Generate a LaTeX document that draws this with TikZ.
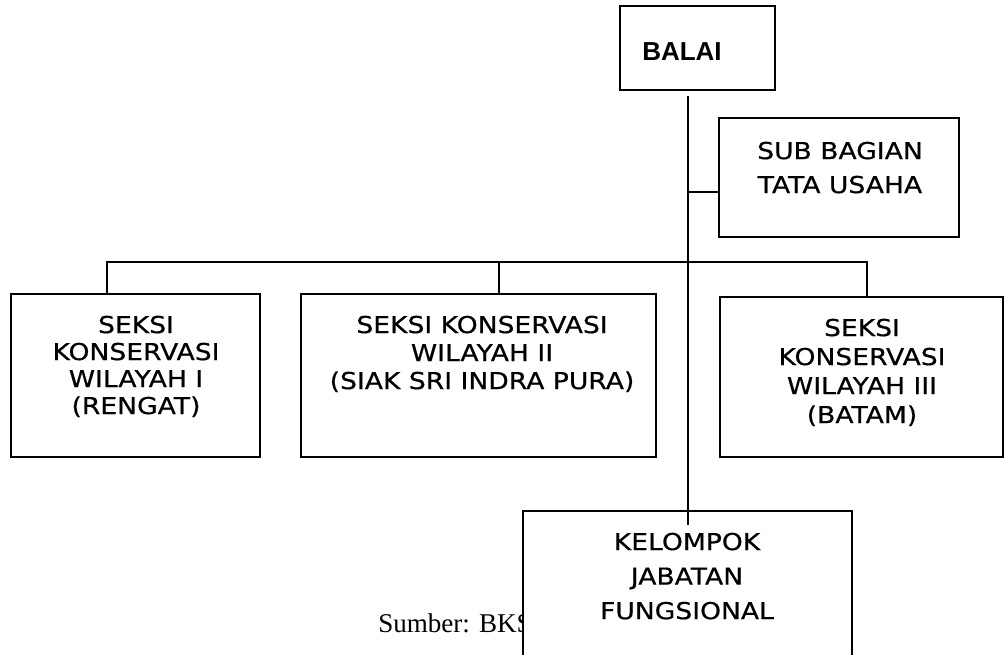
\documentclass[tikz,border=0pt]{standalone}
\usepackage{fontspec}
\setmainfont{Liberation Serif}
\newfontfamily\comicfont[FakeStretch=1.14, FakeBold=0.6]{DejaVu Sans}
\newfontfamily\headfont{Liberation Sans}
\usetikzlibrary{fit}

\tikzset{
  box/.style={draw, line width=1.4pt, inner sep=0pt, fill=white},
  wire/.style={line width=1.4pt},
  unit/.style={inner sep=0pt, align=center, anchor=north,
    font=\comicfont\fontsize{17.5}{#1}\selectfont},
  unit/.default=20.25pt
}

\begin{document}
\begin{tikzpicture}[x=0.75pt, y=-0.75pt]
\path[use as bounding box, clip] (0,0) rectangle (1004,655);

% source line, partly hidden behind the last box
\node[anchor=base west, inner sep=0pt, font=\fontsize{20.3}{24}\selectfont]
  (src) at (378,633) {Sumber: BKSDA};

% head office
\node[box, fit={(620,6) (775,90)}] (balai) {};
\node[anchor=west, inner sep=0pt, font=\headfont\bfseries\fontsize{19.5}{23}\selectfont]
  (balaitxt) at (642,52) {BALAI};

% administration
\node[box, fit={(719,118) (959,237)}] (sub) {};
\node[unit=25.5pt] (subtxt) at (840,141.5) {SUB BAGIAN\\TATA USAHA};

% regional sections
\node[box, fit={(11,294) (260,457)}] (s1) {};
\node[unit=20.25pt] (s1txt) at (136,315.5) {SEKSI\\KONSERVASI\\WILAYAH I\\(RENGAT)};

\node[box, fit={(301,294) (656,457)}] (s2) {};
\node[unit=21pt] (s2txt) at (482,315.5) {SEKSI KONSERVASI\\WILAYAH II\\(SIAK SRI INDRA PURA)};

\node[box, fit={(720,297) (1003,457)}] (s3) {};
\node[unit=21.75pt] (s3txt) at (862,318.5) {SEKSI\\KONSERVASI\\WILAYAH III\\(BATAM)};

% functional group
\node[box, fit={(523,511) (852,700)}] (kjf) {};
\node[unit=25.9pt] (kjftxt) at (687,532.5) {KELOMPOK\\JABATAN\\FUNGSIONAL};

% connectors
\coordinate (trunktop) at (688,96);
\coordinate (trunkend) at (688,525);
\coordinate (jsub) at (688,192);
\coordinate (busL) at (107,262);
\coordinate (busM) at (499,262);
\coordinate (busR) at (867,262);

\draw[wire] (trunktop) -- (trunkend);
\draw[wire] (jsub) -- (jsub -| sub.west);
\draw[wire] (busL |- s1.north) -- (busL) -- (busR) -- (busR |- s3.north);
\draw[wire] (busM) -- (busM |- s2.north);
\end{tikzpicture}
\end{document}
